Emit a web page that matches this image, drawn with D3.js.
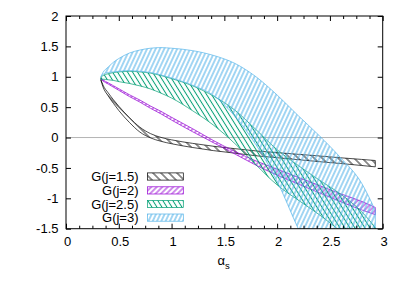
<!DOCTYPE html>
<html><head><meta charset="utf-8">
<script src="https://cdn.jsdelivr.net/npm/d3@7"></script>
<style>
body{margin:0;background:#fff}
text{font-family:"Liberation Sans",Arial,Helvetica,sans-serif;font-size:13px;fill:#000}
</style>
</head><body>
<svg id="c" width="407" height="285"></svg>
<script>
// ---- data ----
const alpha = [0.33, 0.35, 0.4, 0.45, 0.5, 0.6, 0.7, 0.8, 0.9, 1.0, 1.2, 1.4, 1.6, 1.8, 2.0, 2.2, 2.4, 2.6, 2.8, 2.93];
const seriesNames = ["G(j=1.5)", "G(j=2)", "G(j=2.5)", "G(j=3)"];
const j15Upper = [0.955, 0.865, 0.735, 0.62, 0.515, 0.33, 0.17, 0.065, 0.002, -0.038, -0.096, -0.144, -0.183, -0.22, -0.248, -0.276, -0.303, -0.333, -0.36, -0.378];
const j15Lower = [0.945, 0.835, 0.685, 0.56, 0.445, 0.25, 0.09, -0.005, -0.062, -0.102, -0.164, -0.216, -0.257, -0.30, -0.332, -0.364, -0.397, -0.427, -0.46, -0.482];
const j2Upper = [0.975, 0.948, 0.90, 0.852, 0.803, 0.705, 0.617, 0.519, 0.431, 0.333, 0.145, -0.052, -0.229, -0.385, -0.52, -0.655, -0.79, -0.925, -1.05, -1.15];
const j2Lower = [0.965, 0.932, 0.88, 0.828, 0.777, 0.675, 0.583, 0.481, 0.389, 0.287, 0.095, -0.088, -0.271, -0.455, -0.62, -0.765, -0.91, -1.055, -1.19, -1.27];
const j25Upper = [0.99, 1.02, 1.05, 1.07, 1.08, 1.09, 1.08, 1.06, 1.02, 0.97, 0.85, 0.68, 0.45, 0.13, -0.2, -0.46, -0.7, -0.93, -1.22, -1.48];
const j25Lower = [0.96, 0.96, 0.95, 0.94, 0.92, 0.89, 0.85, 0.80, 0.73, 0.65, 0.44, 0.20, -0.10, -0.45, -0.78, -1.03, -1.27, -1.54, -1.80, -1.98];
const j3Upper = [1.0, 1.07, 1.16, 1.24, 1.30, 1.39, 1.44, 1.47, 1.48, 1.47, 1.43, 1.35, 1.22, 1.0, 0.70, 0.36, 0.03, -0.33, -0.75, -1.2];
const j3Lower = [1.0, 1.04, 1.07, 1.08, 1.09, 1.10, 1.09, 1.07, 1.03, 0.98, 0.86, 0.69, 0.35, -0.12, -0.72, -1.5, -2.2, -2.9, -3.6, -4.0];
const xTicks = [0, 0.5, 1, 1.5, 2, 2.5, 3];
const xTickLabels = ["0", "0.5", "1", "1.5", "2", "2.5", "3"];
const xMinorTicks = d3.range(0, 3.0001, 0.125).filter(v => Math.abs(v * 2 - Math.round(v * 2)) > 1e-6);
const yTicks = [-1.5, -1, -0.5, 0, 0.5, 1, 1.5, 2];
const yTickLabels = ["-1.5", "-1", "-0.5", "0", "0.5", "1", "1.5", "2"];
const colors = ["#000000", "#9400d3", "#009e73", "#56b4e9"];
const bands = [
  {name: seriesNames[0], lower: j15Lower, upper: j15Upper, color: colors[0], dir: -1, ang: 45, sp: 8, w: 0.9},
  {name: seriesNames[1], lower: j2Lower, upper: j2Upper, color: colors[1], dir: 1, ang: 45, sp: 5.5, w: 0.9},
  {name: seriesNames[2], lower: j25Lower, upper: j25Upper, color: colors[2], dir: -1, ang: 58, sp: 5, w: 1},
  {name: seriesNames[3], lower: j3Lower, upper: j3Upper, color: colors[3], dir: 1, ang: 65, sp: 4.3, w: 1.1}
];

// ---- layout ----
const L = 66, R = 382.7, T = 16, B = 228.7;
const x = d3.scaleLinear().domain([0, 3]).range([L, R]);
const y = d3.scaleLinear().domain([-1.5, 2]).range([B, T]);
const svg = d3.select("#c");
const defs = svg.append("defs");
defs.append("clipPath").attr("id", "plotclip").append("rect")
  .attr("x", L).attr("y", T).attr("width", R - L).attr("height", B - T);

bands.forEach((b, i) => {
  const perp = b.sp * Math.sin(b.ang * Math.PI / 180);
  const rot = b.dir * (90 - b.ang);
  const p = defs.append("pattern").attr("id", "pat" + i)
    .attr("patternUnits", "userSpaceOnUse")
    .attr("width", perp).attr("height", 10)
    .attr("patternTransform", `rotate(${rot})`);
  p.append("line").attr("x1", perp / 2).attr("x2", perp / 2).attr("y1", -1).attr("y2", 11)
    .attr("stroke", b.color).attr("stroke-width", b.w);
});

// zero line
svg.append("line").attr("x1", L).attr("x2", R).attr("y1", y(0)).attr("y2", y(0))
  .attr("stroke", "#b4b4b4").attr("stroke-width", 1);

// bands
const gPlot = svg.append("g").attr("clip-path", "url(#plotclip)");
bands.forEach((b, i) => {
  const data = alpha.map((a, k) => ({a, lo: b.lower[k], hi: b.upper[k]}));
  const area = d3.area().x(d => x(d.a)).y0(d => y(d.lo)).y1(d => y(d.hi)).curve(d3.curveMonotoneX);
  gPlot.append("path").attr("d", area(data))
    .attr("fill", `url(#pat${i})`).attr("stroke", b.color).attr("stroke-width", 0.7);
});

// axes
function styleAxis(g) {
  g.select(".domain").remove();
  g.selectAll("line").attr("stroke", "#000").attr("stroke-width", 1);
  g.selectAll("text").attr("font-family", null).attr("font-size", null).attr("fill", "#000");
}
svg.append("g").attr("transform", `translate(0,${B})`)
  .call(d3.axisBottom(x).tickValues(xMinorTicks).tickSize(-3).tickFormat(""))
  .call(styleAxis);
svg.append("g").attr("transform", `translate(0,${T})`)
  .call(d3.axisTop(x).tickValues(xMinorTicks).tickSize(-3).tickFormat(""))
  .call(styleAxis);
const bx = svg.append("g").attr("transform", `translate(0,${B})`)
  .call(d3.axisBottom(x).tickValues(xTicks).tickSize(-5).tickPadding(7.6)
    .tickFormat((d, i) => xTickLabels[i]))
  .call(styleAxis);
bx.selectAll("text").attr("dx", 1);
svg.append("g").attr("transform", `translate(0,${T})`)
  .call(d3.axisTop(x).tickValues(xTicks).tickSize(-5).tickFormat(""))
  .call(styleAxis);
svg.append("g").attr("transform", `translate(${L},0)`)
  .call(d3.axisLeft(y).tickValues(yTicks).tickSize(-5).tickPadding(7.5)
    .tickFormat((d, i) => yTickLabels[i]))
  .call(styleAxis);
svg.append("g").attr("transform", `translate(${R},0)`)
  .call(d3.axisRight(y).tickValues(yTicks).tickSize(-5).tickFormat(""))
  .call(styleAxis);

// frame
svg.append("rect").attr("x", L).attr("y", T).attr("width", R - L).attr("height", B - T)
  .attr("fill", "none").attr("stroke", "#000").attr("stroke-width", 1);

// axis title
const t = svg.append("text").attr("x", 217.5).attr("y", 265);
t.append("tspan").text("α");
t.append("tspan").attr("dy", 3.5).attr("font-size", "9.5px").text("s");

// legend
const rowY = [176.5, 190.4, 204, 217.6];
bands.forEach((b, i) => {
  svg.append("text").attr("x", 138.5).attr("y", rowY[i]).attr("dy", "0.35em")
    .attr("text-anchor", "end").text(b.name);
  svg.append("rect").attr("x", 147.5).attr("y", rowY[i] - 3.6).attr("width", 35.8).attr("height", 7.2)
    .attr("fill", `url(#pat${i})`).attr("stroke", b.color).attr("stroke-width", 0.7);
});
</script>
</body></html>
